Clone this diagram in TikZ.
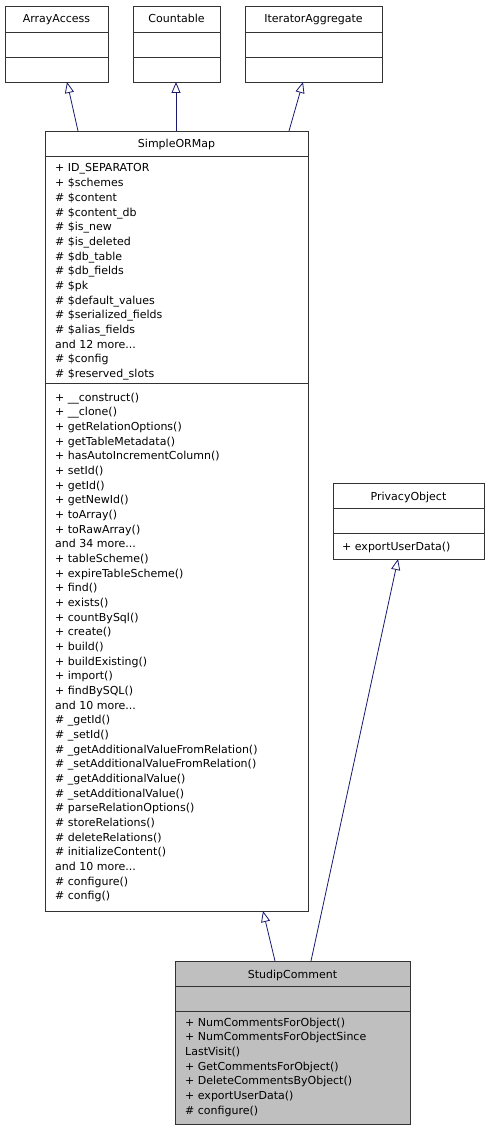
\documentclass[tikz,border=0pt]{standalone}
\usepackage{fontspec}
\setmainfont{DejaVu Sans}
\usetikzlibrary{arrows.meta}
\definecolor{edge}{HTML}{191970}
\newcommand{\moreof}[1]{and #1 more...}
\begin{document}
\begin{tikzpicture}[x=1pt,y=-1pt,
  txt/.style={anchor=base west,inner sep=0,font=\fontsize{11}{12}\selectfont},
  ttl/.style={anchor=base,inner sep=0,font=\fontsize{11}{12}\selectfont},
  inh/.style={draw=edge,line width=0.8pt,-{Triangle[open,length=11pt,width=9pt]}}]
\useasboundingbox (0,0) rectangle (489,1131);
% ArrayAccess
\draw[line width=0.9pt,black!80] (5,6) rectangle (108,82) (5,32)--(108,32) (5,57)--(108,57);
\node[ttl] (aa) at (56.5,23) {ArrayAccess};
\coordinate (aab) at (67,82);
% Countable
\draw[line width=0.9pt,black!80] (133,6) rectangle (220,82) (133,32)--(220,32) (133,57)--(220,57);
\node[ttl] (co) at (176.5,23) {Countable};
\coordinate (cob) at (176,82);
% IteratorAggregate
\draw[line width=0.9pt,black!80] (245,6) rectangle (382,82) (245,32)--(382,32) (245,57)--(382,57);
\node[ttl] (ia) at (313.5,23) {IteratorAggregate};
\coordinate (iab) at (303,82);
% SimpleORMap
\draw[line width=0.9pt,black!80] (45,131) rectangle (308,911) (45,156)--(308,156) (45,383)--(308,383);
\node[ttl] (so) at (176.5,148) {SimpleORMap};
\coordinate (sot1) at (78,131);
\coordinate (sot2) at (176,131);
\coordinate (sot3) at (289,131);
\coordinate (sob) at (263,911);
\foreach \t [count=\i] in {+ ID\_SEPARATOR,+ \$schemes,\# \$content,\# \$content\_db,\# \$is\_new,\# \$is\_deleted,\# \$db\_table,\# \$db\_fields,\# \$pk,\# \$default\_values,\# \$serialized\_fields,\# \$alias\_fields,\moreof{12},\# \$config,\# \$reserved\_slots}
  \node[txt] (sa\i) at (55,{172+14.67*(\i-1)}) {\t};
\foreach \t [count=\i] in {+ \_\_construct(),+ \_\_clone(),+ getRelationOptions(),+ getTableMetadata(),+ hasAutoIncrementColumn(),+ setId(),+ getId(),+ getNewId(),+ toArray(),+ toRawArray(),\moreof{34},+ tableScheme(),+ expireTableScheme(),+ find(),+ exists(),+ countBySql(),+ create(),+ build(),+ buildExisting(),+ import(),+ findBySQL(),\moreof{10},\# \_getId(),\# \_setId(),\# \_getAdditionalValueFromRelation(),\# \_setAdditionalValueFromRelation(),\# \_getAdditionalValue(),\# \_setAdditionalValue(),\# parseRelationOptions(),\# storeRelations(),\# deleteRelations(),\# initializeContent(),\moreof{10},\# configure(),\# config()}
  \node[txt] (sm\i) at (55,{401+14.67*(\i-1)}) {\t};
% PrivacyObject
\draw[line width=0.9pt,black!80] (333,483) rectangle (484,559) (333,508)--(484,508) (333,533)--(484,533);
\node[ttl] (po) at (408.5,500) {PrivacyObject};
\node[txt] (pom) at (342,550) {+ exportUserData()};
\coordinate (pob) at (398,559);
% StudipComment
\draw[line width=0.9pt,black!80,fill=black!25] (175,961) rectangle (410,1124);
\draw[line width=0.9pt,black!80] (175,986)--(410,986) (175,1011)--(410,1011);
\node[ttl] (sc) at (292.5,978) {StudipComment};
\foreach \t [count=\i] in {+ NumCommentsForObject(),+ NumCommentsForObjectSince,LastVisit(),+ GetCommentsForObject(),+ DeleteCommentsByObject(),+ exportUserData(),\# configure()}
  \node[txt] (sc\i) at (185,{1026+14.67*(\i-1)}) {\t};
\coordinate (sct1) at (275,961);
\coordinate (sct2) at (311,961);
% edges
\draw[inh] (sot1) -- (aab);
\draw[inh] (sot2) -- (cob);
\draw[inh] (sot3) -- (iab);
\draw[inh] (sct1) -- (sob);
\draw[inh] (sct2) -- (pob);
\end{tikzpicture}
\end{document}
